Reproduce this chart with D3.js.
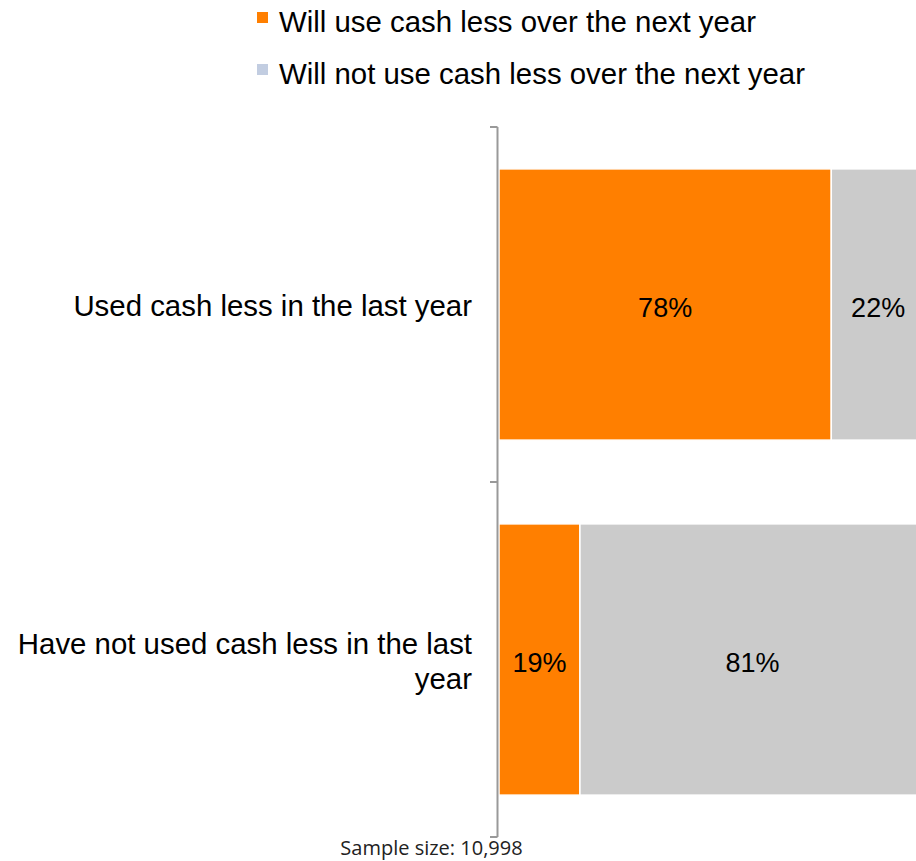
<!DOCTYPE html>
<html>
<head>
<meta charset="utf-8">
<script src="https://cdn.jsdelivr.net/npm/d3@7"></script>
<style>
  html, body { margin: 0; padding: 0; background: #fff; }
  svg { display: block; }
</style>
</head>
<body>
<svg id="chart" width="916" height="861"></svg>
<script>
// Categories (top to bottom) and the two stacked series, in percent
const categories = ["Used cash less in the last year", "Have not used cash less in the last year"];
const willUseLess = [78, 19];
const willNotUseLess = [22, 81];
const seriesNames = ["Will use cash less over the next year", "Will not use cash less over the next year"];
const footnote = "Sample size: 10,998";

const svg = d3.select("#chart");
const font = "'Liberation Sans', Arial, sans-serif";

const colors = ["#ff7f00", "#cbcbcb"];
const legendColors = ["#ff7f00", "#c2cde1"];

// Scales
const y = d3.scaleBand().domain(categories).range([127, 837]).padding(0);
const x = d3.scaleLinear().domain([0, 100]).range([499, 925]);

// Stack the two series
const rows = categories.map((c, i) => ({ cat: c, a: willUseLess[i], b: willNotUseLess[i] }));
const stacked = d3.stack().keys(["a", "b"])(rows);

const inset = y.bandwidth() * 0.118;
const barH = y.bandwidth() - 2 * inset;

const layers = svg.append("g").selectAll("g")
  .data(stacked).join("g")
  .attr("fill", (d, i) => colors[i]);

layers.selectAll("rect")
  .data(d => d.map(v => ({ v, cat: v.data.cat })))
  .join("rect")
  .attr("x", d => x(d.v[0]))
  .attr("y", d => y(d.cat) + inset)
  .attr("width", d => x(d.v[1]) - x(d.v[0]))
  .attr("height", barH)
  .attr("stroke", "#fff")
  .attr("stroke-width", 1.5);

// Value labels centered in each segment
layers.selectAll("text")
  .data(d => d.map(v => ({ v, cat: v.data.cat })))
  .join("text")
  .attr("x", d => (x(d.v[0]) + x(d.v[1])) / 2)
  .attr("y", d => y(d.cat) + y.bandwidth() / 2)
  .attr("dy", "0.45em")
  .attr("text-anchor", "middle")
  .attr("fill", "#000")
  .style("font-family", font)
  .style("font-size", "27px")
  .text(d => Math.round(d.v[1] - d.v[0]) + "%");

// Category axis with ticks on band boundaries
const axisG = svg.append("g");
axisG.append("line")
  .attr("x1", 497.5).attr("x2", 497.5)
  .attr("y1", y.range()[0]).attr("y2", y.range()[1])
  .attr("stroke", "#999").attr("stroke-width", 2);
const boundaries = categories.map(c => y(c)).concat([y.range()[1]]);
axisG.selectAll("line.tick")
  .data(boundaries).join("line").attr("class", "tick")
  .attr("x1", 490).attr("x2", 497.5)
  .attr("y1", d => d).attr("y2", d => d)
  .attr("stroke", "#999").attr("stroke-width", 2);

// Category labels, right-aligned, wrapped to fit
const labelLines = [["Used cash less in the last year"], ["Have not used cash less in the last", "year"]];
const catLabels = svg.append("g").selectAll("text")
  .data(categories).join("text")
  .attr("text-anchor", "end")
  .style("font-family", font)
  .style("font-size", "29.4px")
  .attr("fill", "#000");
catLabels.each(function (c, i) {
  const lines = labelLines[i];
  const lh = 35;
  const cy = y(c) + y.bandwidth() / 2;
  const start = cy - (lines.length - 1) * lh / 2;
  d3.select(this).selectAll("tspan").data(lines).join("tspan")
    .attr("x", 472)
    .attr("y", (d, j) => start + j * lh)
    .attr("dy", "0.4em")
    .text(d => d);
});

// Legend
const legend = svg.append("g").selectAll("g")
  .data(seriesNames).join("g")
  .attr("transform", (d, i) => `translate(257, ${i * 52})`);
legend.append("rect")
  .attr("x", 0).attr("y", 12).attr("width", 11).attr("height", 11)
  .attr("fill", (d, i) => legendColors[i]);
legend.append("text")
  .attr("x", 22).attr("y", 32)
  .style("font-family", font)
  .style("font-size", "29.4px")
  .attr("fill", "#000")
  .text(d => d);

// Footnote
svg.append("text")
  .attr("x", 431.5).attr("y", 855)
  .attr("text-anchor", "middle")
  .style("font-family", "'Open Sans', 'Noto Sans', sans-serif")
  .style("font-size", "20px")
  .attr("fill", "#222")
  .text(footnote);
</script>
</body>
</html>
